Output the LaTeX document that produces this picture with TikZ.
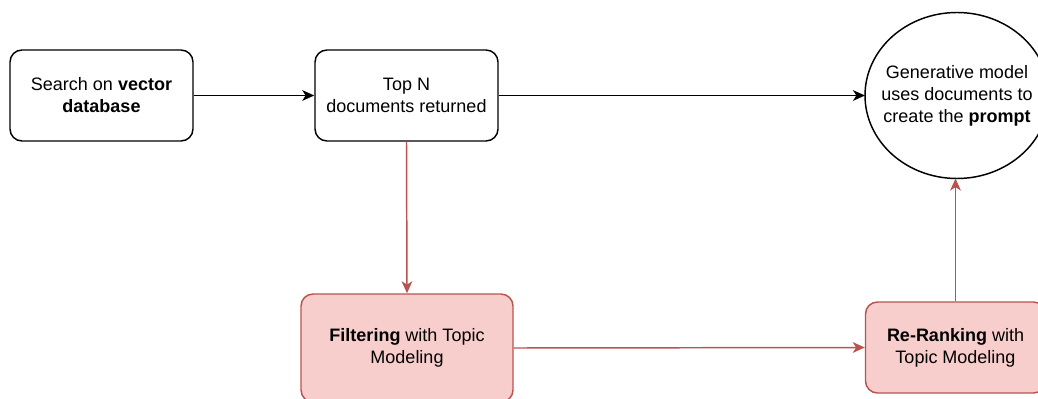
\documentclass[tikz,border=0pt]{standalone}
\usepackage{fontspec}
\setmainfont{Liberation Sans}
\usetikzlibrary{arrows.meta,shapes.geometric}
\definecolor{redfill}{HTML}{F8CECC}
\definecolor{redline}{HTML}{B85450}
\tikzset{
  px/.style={x=0.75pt,y=-0.75pt},
  txt/.style={font=\fontsize{13.5pt}{16.5pt}\selectfont, align=center, inner sep=0pt},
  whitebox/.style={txt, draw=black, fill=white, line width=1.1pt, rounded corners=9pt, rectangle},
  redbox/.style={txt, draw=redline, fill=redfill, line width=1.1pt, rounded corners=9pt, rectangle},
  blackarrow/.style={draw=black, line width=1.1pt, -{Stealth[length=9pt,width=8pt,inset=2.5pt]}},
  redarrow/.style={draw=redline, line width=1.1pt, -{Stealth[length=9pt,width=8pt,inset=2.5pt]}},
}
\begin{document}
\begin{tikzpicture}[px]
\useasboundingbox (0,0) rectangle (1038,399);
\clip (0,0) rectangle (1038,399);
\node[whitebox, minimum width=137.25pt, minimum height=68.25pt] (search) at (101.5,95.5)
  {Search on \textbf{vector}\\\textbf{database}};
\node[whitebox, minimum width=137.25pt, minimum height=68.25pt] (topn) at (406.5,95.5)
  {Top N\\documents returned};
\node[ellipse, draw=black, fill=white, line width=1.1pt, inner sep=0pt, outer sep=0pt, minimum width=138pt, minimum height=124.5pt] (gen) at (957,95.5) {};
\node[txt] (gentext) at (gen.center)
  {Generative model\\uses documents to\\create the \textbf{prompt}};
\node[redbox, minimum width=159pt, minimum height=81pt] (filter) at (407,348)
  {\textbf{Filtering} with Topic\\Modeling};
\node[redbox, minimum width=135pt, minimum height=68.25pt] (rerank) at (955.5,347.5)
  {\textbf{Re-Ranking} with\\Topic Modeling};
\draw[blackarrow] (search.east) -- (topn.west);
\draw[blackarrow] (topn.east) -- (gen.west);
\draw[redarrow] (topn.south) -- (filter.north);
\draw[redarrow] (filter.east) -- (rerank.west);
\draw[redarrow] (rerank.north) -- (rerank.north |- gen.south);
\end{tikzpicture}
\end{document}
